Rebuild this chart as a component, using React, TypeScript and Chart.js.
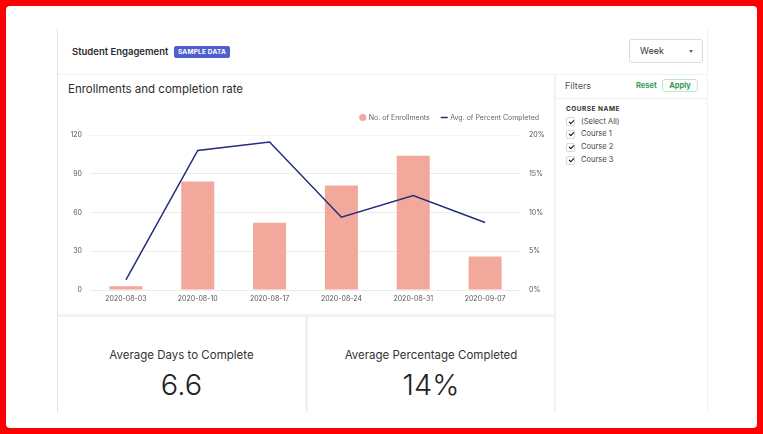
import React, { useEffect, useRef } from "react";
import { Chart, registerables } from "chart.js";

Chart.register(...registerables);

const categories = ["2020-08-03", "2020-08-10", "2020-08-17", "2020-08-24", "2020-08-31", "2020-09-07"];
const enrollments = [3, 84, 52, 81, 104, 26];
const avgPercentCompleted = [1.3, 18.0, 19.1, 9.4, 12.2, 8.7];
const leftTicks = [0, 30, 60, 90, 120];
const rightTicks = [0, 5, 10, 15, 20];
const courses = ["(Select All)", "Course 1", "Course 2", "Course 3"];

const BAR_COLOR = "#f2a99c";
const LINE_COLOR = "#252c7e";
const FONT = "Inter, 'Noto Sans', sans-serif";

const legendGap = {
  id: "legendGap",
  beforeLayout(chart: any) {
    const lg = chart.legend;
    if (lg && !lg._gapPatched) {
      const fit = lg.fit.bind(lg);
      lg.fit = () => {
        fit();
        lg.height += 4;
      };
      lg._gapPatched = true;
    }
  },
};

function ComboChart() {
  const ref = useRef<HTMLCanvasElement | null>(null);
  useEffect(() => {
    if (!ref.current) return;
    Chart.defaults.font.family = FONT;
    const chart = new Chart(ref.current, {
      type: "bar",
      data: {
        labels: categories,
        datasets: [
          {
            type: "bar",
            label: "No. of Enrollments",
            data: enrollments,
            backgroundColor: BAR_COLOR,
            borderWidth: 0,
            barPercentage: 0.46,
            categoryPercentage: 1,
            yAxisID: "y",
            order: 1,
            pointStyle: "circle",
          } as any,
          {
            type: "line",
            label: "Avg. of Percent Completed",
            data: avgPercentCompleted,
            borderColor: LINE_COLOR,
            backgroundColor: LINE_COLOR,
            borderWidth: 1.5,
            pointRadius: 0,
            pointHoverRadius: 0,
            pointBorderWidth: 1.5,
            pointBorderColor: LINE_COLOR,
            pointStyle: "line",
            tension: 0,
            yAxisID: "y1",
            order: 0,
          } as any,
        ],
      },
      options: {
        animation: false,
        responsive: true,
        maintainAspectRatio: false,
        layout: { padding: 0 },
        plugins: {
          tooltip: { enabled: false },
          legend: {
            display: true,
            position: "top",
            align: "end",
            labels: {
              usePointStyle: true,
              boxWidth: 5,
              boxHeight: 5,
              padding: 12,
              color: "#666",
              font: { size: 7, family: FONT },
              sort: (a: any, b: any) => a.datasetIndex - b.datasetIndex,
            },
          },
        },
        scales: {
          x: {
            offset: true,
            grid: { display: false, drawTicks: false },
            border: { display: false },
            ticks: { color: "#555", font: { size: 7, family: FONT }, padding: 5, maxRotation: 0, autoSkip: false },
            afterFit: (s: any) => {
              s.height = 22;
            },
          },
          y: {
            position: "left",
            min: 0,
            max: 120,
            afterBuildTicks: (s: any) => {
              s.ticks = leftTicks.map((v) => ({ value: v }));
            },
            grid: {
              drawTicks: false,
              color: (ctx: any) => (ctx.tick && ctx.tick.value === 120 ? "#f3f3f3" : "#ececec"),
              lineWidth: 1,
            },
            border: { display: false },
            ticks: { color: "#555", font: { size: 7, family: FONT }, padding: 8 },
            afterFit: (s: any) => {
              s.width = 30;
            },
          },
          y1: {
            position: "right",
            min: 0,
            max: 20,
            afterBuildTicks: (s: any) => {
              s.ticks = rightTicks.map((v) => ({ value: v }));
            },
            grid: { display: false, drawTicks: false },
            border: { display: false },
            ticks: {
              color: "#555",
              font: { size: 7, family: FONT },
              padding: 8,
              callback: (v: any) => v + "%",
            },
            afterFit: (s: any) => {
              s.width = 30;
            },
          },
        },
      } as any,
      plugins: [legendGap],
    });
    return () => chart.destroy();
  }, []);
  return (
    <div style={{ position: "absolute", left: 60, top: 102, width: 491, height: 210 }}>
      <canvas ref={ref} />
    </div>
  );
}

function Abs(props: { style: React.CSSProperties; children?: React.ReactNode }) {
  return <div style={{ position: "absolute", ...props.style }}>{props.children}</div>;
}

function Check({ cy, label }: { cy: number; label: string }) {
  return (
    <>
      <Abs
        style={{
          left: 566,
          top: cy - 4.5,
          width: 9,
          height: 9,
          boxSizing: "border-box",
          border: "1px solid #d6d6d6",
          borderRadius: 2,
          background: "#fff",
        }}
      >
        <div
          style={{
            position: "absolute",
            left: 2,
            top: 1.5,
            width: 4,
            height: 2,
            borderLeft: "1.4px solid #111",
            borderBottom: "1.4px solid #111",
            transform: "rotate(-45deg)",
          }}
        />
      </Abs>
      <Abs style={{ left: 581, top: cy - 6, height: 12, lineHeight: "12px", fontSize: 7.5, color: "#444" }}>{label}</Abs>
    </>
  );
}

export default function App() {
  const rows = [121.7, 134.3, 147.3, 160];
  return (
    <div
      style={{
        position: "absolute",
        left: 0,
        top: 0,
        width: 763,
        height: 434,
        background: "#ff0000",
        fontFamily: FONT,
        overflow: "hidden",
      }}
    >
      <Abs style={{ left: 6, top: 6, width: 751, height: 422, background: "#fff", borderRadius: 4 }} />
      {/* dashboard frame */}
      <Abs
        style={{
          left: 57,
          top: 29,
          width: 650,
          height: 383,
          background: "#f2f2f3",
          borderLeft: "1px solid #e2e2e2",
        }}
      />
      {/* header */}
      <Abs style={{ left: 58, top: 29, width: 649, height: 45, background: "#fff" }} />
      <Abs
        style={{
          left: 72,
          top: 46,
          height: 12,
          lineHeight: "12px",
          fontSize: 9.5,
          fontWeight: 600,
          color: "#2b2b2b",
          whiteSpace: "nowrap",
        }}
      >
        Student Engagement
      </Abs>
      <Abs
        style={{
          left: 174,
          top: 46,
          width: 56,
          height: 12,
          lineHeight: "12px",
          background: "#4e5fcf",
          borderRadius: 2,
          color: "#fff",
          fontSize: 6.5,
          fontWeight: 700,
          textAlign: "center",
          letterSpacing: 0.2,
        }}
      >
        SAMPLE DATA
      </Abs>
      <Abs
        style={{
          left: 629,
          top: 39,
          width: 74,
          height: 24,
          boxSizing: "border-box",
          border: "1px solid #dcdcdc",
          borderRadius: 3,
          background: "#fff",
        }}
      >
        <div style={{ position: "absolute", left: 10, top: 5, lineHeight: "12px", fontSize: 9, color: "#333" }}>Week</div>
        <div
          style={{
            position: "absolute",
            left: 59,
            top: 10,
            width: 0,
            height: 0,
            borderLeft: "2.5px solid transparent",
            borderRight: "2.5px solid transparent",
            borderTop: "3px solid #666",
          }}
        />
      </Abs>
      {/* chart panel */}
      <Abs style={{ left: 58, top: 75, width: 496, height: 239, background: "#fff" }} />
      <Abs
        style={{ left: 68, top: 82, height: 14, lineHeight: "14px", fontSize: 11.5, color: "#2d2d2d", whiteSpace: "nowrap" }}
      >
        Enrollments and completion rate
      </Abs>
      <ComboChart />
      {/* filter panel */}
      <Abs style={{ left: 556, top: 75, width: 151, height: 337, background: "#fff" }} />
      <Abs style={{ left: 556, top: 98, width: 151, height: 1, background: "#efefef" }} />
      <Abs style={{ left: 565, top: 80, height: 12, lineHeight: "12px", fontSize: 9, color: "#555" }}>Filters</Abs>
      <Abs style={{ left: 636, top: 80, height: 12, lineHeight: "12px", fontSize: 7.5, fontWeight: 700, color: "#2f9d57" }}>
        Reset
      </Abs>
      <Abs
        style={{
          left: 662,
          top: 79,
          width: 36,
          height: 13,
          boxSizing: "border-box",
          border: "1px solid #bfe5cb",
          borderRadius: 3,
          lineHeight: "11px",
          textAlign: "center",
          fontSize: 7.5,
          fontWeight: 700,
          color: "#2f9d57",
        }}
      >
        Apply
      </Abs>
      <Abs
        style={{
          left: 566,
          top: 103,
          height: 12,
          lineHeight: "12px",
          fontSize: 6.5,
          fontWeight: 700,
          letterSpacing: 0.5,
          color: "#333",
          whiteSpace: "nowrap",
        }}
      >
        COURSE NAME
      </Abs>
      {courses.map((c, i) => (
        <Check key={c} cy={rows[i]} label={c} />
      ))}
      {/* KPI cards */}
      <Abs style={{ left: 58, top: 317, width: 247, height: 95, background: "#fff" }}>
        <div
          style={{ position: "absolute", left: 0, width: 247, top: 31, lineHeight: "14px", fontSize: 11.5, color: "#333", textAlign: "center" }}
        >
          Average Days to Complete
        </div>
        <div
          style={{
            position: "absolute",
            left: 0,
            width: 247,
            top: 50,
            lineHeight: "36px",
            fontSize: 29,
            fontWeight: 300,
            color: "#222",
            textAlign: "center",
          }}
        >
          6.6
        </div>
      </Abs>
      <Abs style={{ left: 308, top: 317, width: 246, height: 95, background: "#fff" }}>
        <div
          style={{ position: "absolute", left: 0, width: 246, top: 31, lineHeight: "14px", fontSize: 11.5, color: "#333", textAlign: "center" }}
        >
          Average Percentage Completed
        </div>
        <div
          style={{
            position: "absolute",
            left: 0,
            width: 246,
            top: 50,
            lineHeight: "36px",
            fontSize: 29,
            fontWeight: 300,
            color: "#222",
            textAlign: "center",
          }}
        >
          14%
        </div>
      </Abs>
    </div>
  );
}
